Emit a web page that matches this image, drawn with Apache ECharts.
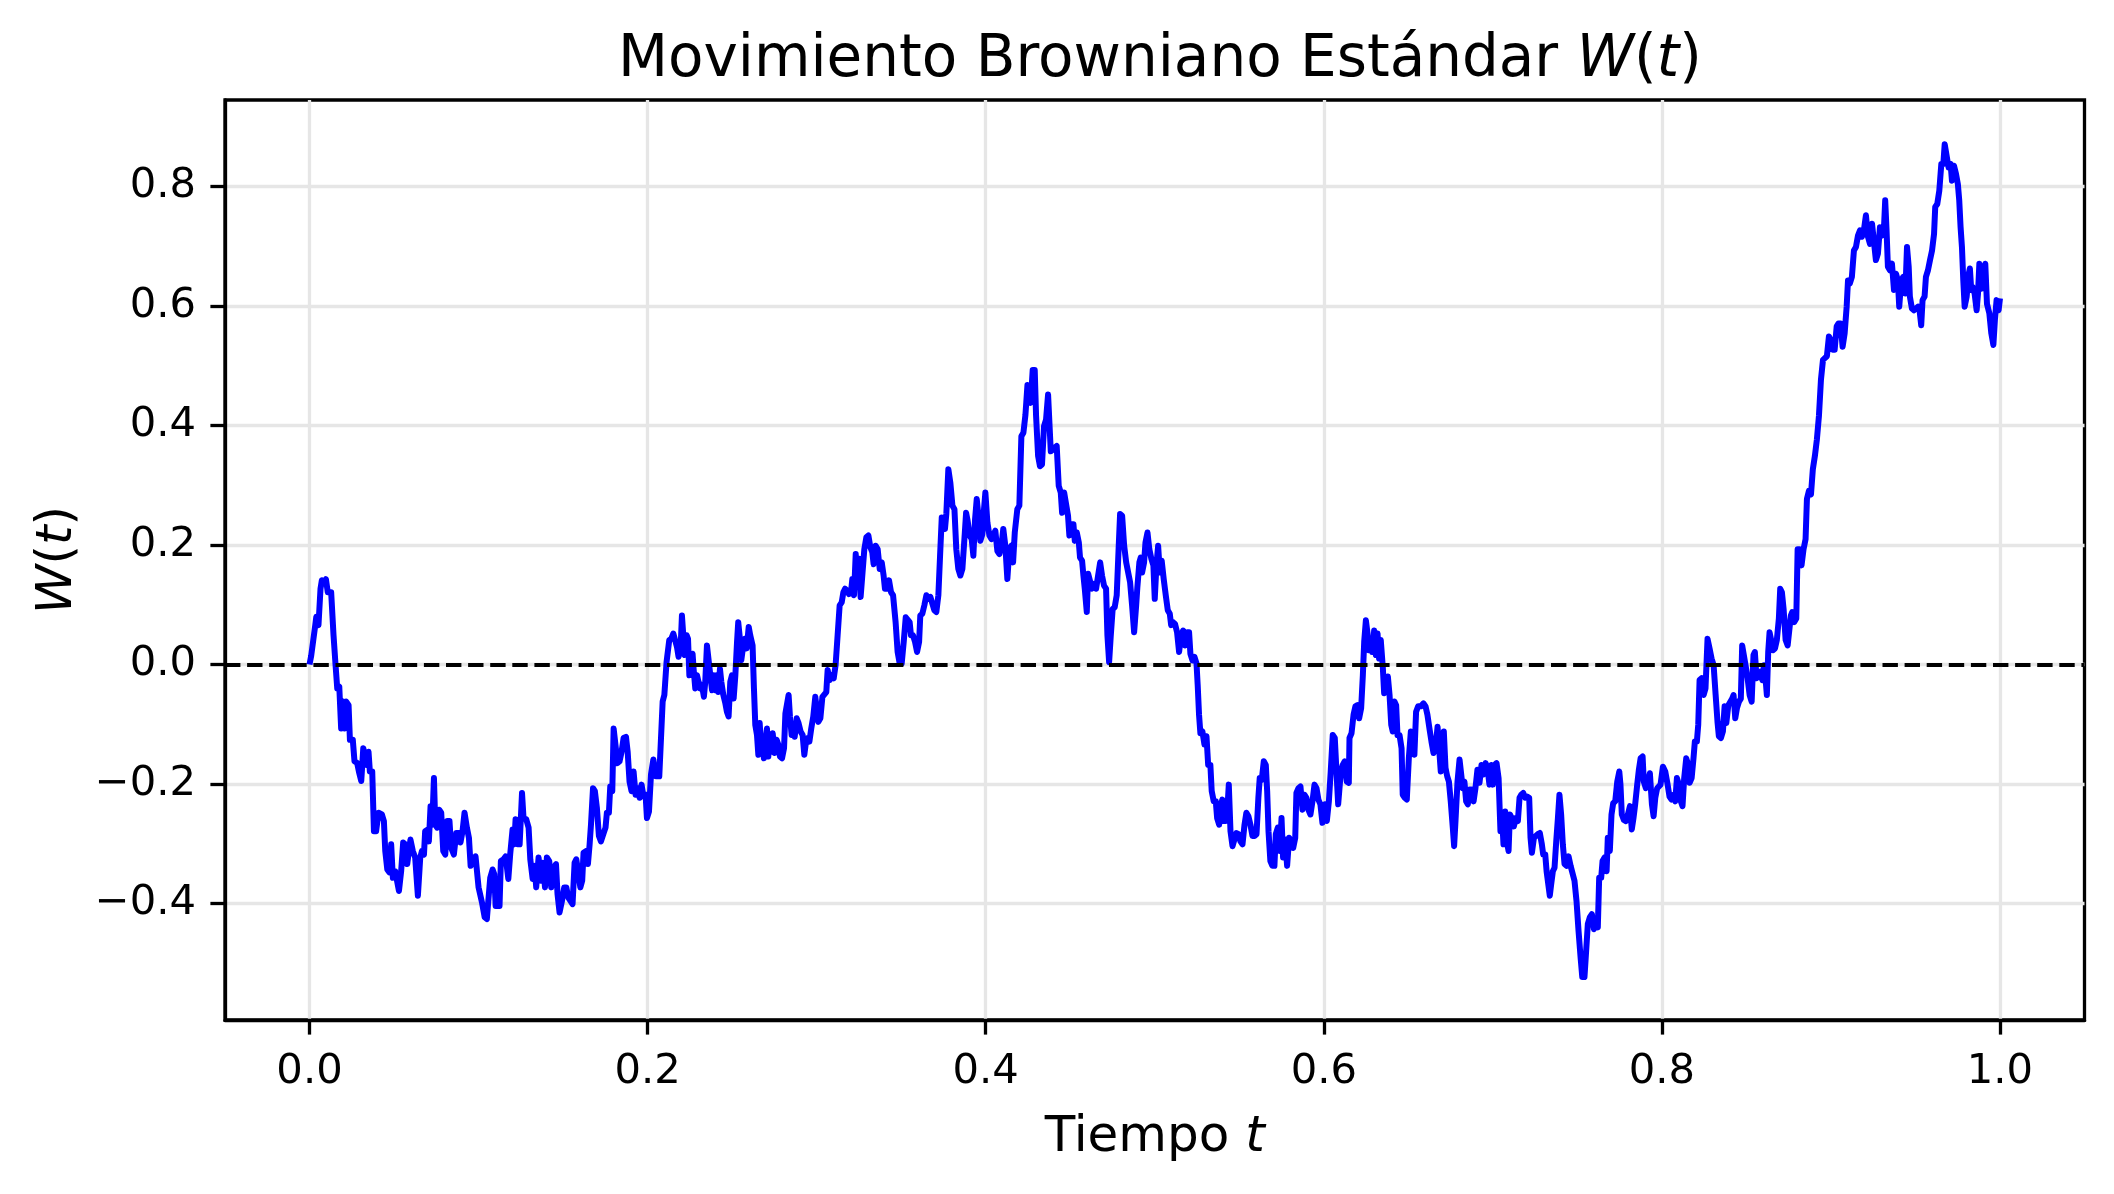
<!DOCTYPE html>
<html>
<head>
<meta charset="utf-8">
<script src="https://cdn.jsdelivr.net/npm/echarts@6/dist/echarts.min.js"></script>
<style>
  html, body { margin: 0; padding: 0; background: #fff; }
  #chart { width: 2114px; height: 1194px; }
</style>
</head>
<body>
<div id="chart"></div>
<script>
// trayectoria W(t), por tramos de 0.1
const tramo0 = [[0,0],[0.001,0.015],[0.002,0.018],[0.0034,0.066],[0.004,0.08],[0.0053,0.066],[0.0065,0.127],[0.0073,0.141],[0.0089,0.138],[0.0097,0.143],[0.0108,0.121],[0.0128,0.121],[0.0142,0.049],[0.0154,-0.001],[0.0164,-0.04],[0.0176,-0.037],[0.0187,-0.107],[0.0199,-0.062],[0.0207,-0.107],[0.0217,-0.062],[0.0231,-0.068],[0.0239,-0.126],[0.0256,-0.126],[0.0266,-0.162],[0.0282,-0.165],[0.0292,-0.179],[0.0306,-0.195],[0.0318,-0.14],[0.0329,-0.143],[0.0337,-0.168],[0.0349,-0.146],[0.0357,-0.179],[0.0371,-0.179],[0.0381,-0.279],[0.0394,-0.279],[0.0408,-0.248],[0.0428,-0.251],[0.044,-0.262],[0.0448,-0.312],[0.046,-0.343],[0.0473,-0.348],[0.0483,-0.301],[0.0493,-0.357],[0.0507,-0.346],[0.0529,-0.379],[0.0542,-0.346],[0.0554,-0.298],[0.0566,-0.301],[0.0578,-0.334],[0.0588,-0.312],[0.0597,-0.293],[0.0611,-0.312],[0.0625,-0.323],[0.0641,-0.387],[0.0655,-0.323],[0.0665,-0.312],[0.0677,-0.318],[0.0684,-0.279],[0.07,-0.276],[0.0706,-0.296],[0.0716,-0.237],[0.0726,-0.268],[0.0736,-0.19],[0.0744,-0.268],[0.0755,-0.273],[0.0767,-0.243],[0.0779,-0.248],[0.0791,-0.312],[0.0803,-0.318],[0.0815,-0.262],[0.0828,-0.262],[0.0838,-0.307],[0.0854,-0.318],[0.0868,-0.282],[0.0882,-0.282],[0.0893,-0.298],[0.0905,-0.279],[0.0917,-0.248],[0.0931,-0.273],[0.0943,-0.29],[0.0953,-0.337],[0.0966,-0.331],[0.0982,-0.321]];
const tramo1 = [[0.1,-0.373],[0.102,-0.398],[0.1036,-0.423],[0.1049,-0.426],[0.1061,-0.384],[0.1069,-0.357],[0.1083,-0.343],[0.1093,-0.351],[0.1101,-0.404],[0.1124,-0.404],[0.1132,-0.329],[0.1148,-0.326],[0.116,-0.321],[0.1176,-0.359],[0.1187,-0.318],[0.1201,-0.276],[0.1211,-0.301],[0.1219,-0.259],[0.1231,-0.301],[0.1243,-0.301],[0.1257,-0.215],[0.1266,-0.257],[0.1282,-0.259],[0.1296,-0.273],[0.1306,-0.326],[0.132,-0.359],[0.1331,-0.337],[0.1341,-0.373],[0.1355,-0.323],[0.1369,-0.362],[0.1381,-0.332],[0.1393,-0.373],[0.1404,-0.323],[0.1418,-0.329],[0.143,-0.373],[0.1444,-0.34],[0.1458,-0.334],[0.1467,-0.384],[0.1479,-0.415],[0.1493,-0.396],[0.1507,-0.373],[0.1519,-0.373],[0.1531,-0.39],[0.1542,-0.39],[0.1556,-0.401],[0.1568,-0.332],[0.1578,-0.326],[0.159,-0.348],[0.1602,-0.373],[0.1613,-0.362],[0.1621,-0.315],[0.1637,-0.312],[0.1647,-0.334],[0.1657,-0.301],[0.1665,-0.268],[0.1677,-0.207],[0.1688,-0.212],[0.17,-0.24],[0.1712,-0.287],[0.1724,-0.296],[0.174,-0.282],[0.1751,-0.273],[0.1759,-0.248],[0.1771,-0.248],[0.1779,-0.204],[0.1791,-0.212],[0.1799,-0.107],[0.1809,-0.104],[0.1822,-0.165],[0.1834,-0.162],[0.1846,-0.146],[0.1858,-0.123],[0.1872,-0.121],[0.1882,-0.146],[0.1893,-0.196],[0.1905,-0.212],[0.1917,-0.179],[0.1929,-0.218],[0.1941,-0.207],[0.1953,-0.223],[0.1964,-0.201],[0.1976,-0.221],[0.1988,-0.218],[0.1996,-0.257]];
const tramo2 = [[0.2008,-0.246],[0.202,-0.184],[0.2034,-0.159],[0.2049,-0.187],[0.2069,-0.187],[0.2089,-0.062],[0.2099,-0.051],[0.2112,0.004],[0.2128,0.041],[0.214,0.043],[0.2152,0.052],[0.2162,0.054],[0.2174,0.029],[0.2183,0.013],[0.2195,0.027],[0.2203,0.082],[0.2211,0.085],[0.2219,0.016],[0.2231,0.049],[0.2239,0.043],[0.2247,-0.018],[0.2256,0.004],[0.2266,0.018],[0.2272,-0.007],[0.2282,-0.04],[0.2292,-0.018],[0.2302,-0.018],[0.231,-0.04],[0.2321,-0.034],[0.2333,-0.054],[0.2341,-0.029],[0.2351,0.032],[0.2361,0.032],[0.2371,-0.018],[0.2381,-0.043],[0.2391,-0.018],[0.24,-0.043],[0.2408,-0.018],[0.2418,-0.046],[0.2428,-0.007],[0.2436,-0.029],[0.2448,-0.051],[0.246,-0.065],[0.2469,-0.079],[0.2479,-0.087],[0.2489,-0.029],[0.2499,-0.018],[0.2509,-0.057],[0.2519,-0.018],[0.2529,0.038],[0.2536,0.071],[0.2546,0.043],[0.2554,0.007],[0.2566,0.032],[0.2576,0.043],[0.2586,0.027],[0.2598,0.063],[0.2607,0.049],[0.2621,0.032],[0.2629,-0.04],[0.2637,-0.101],[0.2647,-0.118],[0.2655,-0.151],[0.2663,-0.098],[0.2673,-0.146],[0.268,-0.123],[0.2688,-0.157],[0.2698,-0.126],[0.2706,-0.107],[0.2714,-0.154],[0.2722,-0.118],[0.2732,-0.146],[0.274,-0.115],[0.2751,-0.148],[0.2763,-0.126],[0.2773,-0.134],[0.2783,-0.154],[0.2795,-0.157],[0.2807,-0.14],[0.2815,-0.082],[0.2824,-0.079],[0.2834,-0.051],[0.2842,-0.087],[0.2852,-0.118],[0.2862,-0.107],[0.287,-0.121],[0.2882,-0.09],[0.2893,-0.098],[0.2905,-0.112],[0.2917,-0.118],[0.2927,-0.151],[0.2937,-0.129],[0.2947,-0.123],[0.2957,-0.129],[0.2968,-0.107],[0.298,-0.087],[0.2992,-0.054]];
const tramo3 = [[0.301,-0.096],[0.3022,-0.09],[0.3034,-0.054],[0.3045,-0.054],[0.3057,-0.046],[0.3065,-0.009],[0.3077,-0.026],[0.3089,-0.018],[0.3101,-0.023],[0.3112,-0.001],[0.3124,0.049],[0.3136,0.099],[0.3148,0.104],[0.3158,0.121],[0.3168,0.127],[0.318,0.124],[0.3191,0.118],[0.3203,0.121],[0.3211,0.143],[0.3221,0.116],[0.3231,0.185],[0.3241,0.143],[0.325,0.177],[0.326,0.113],[0.327,0.149],[0.3282,0.193],[0.3294,0.213],[0.3306,0.216],[0.3318,0.196],[0.3329,0.188],[0.3337,0.168],[0.3349,0.199],[0.3361,0.193],[0.3373,0.16],[0.3385,0.171],[0.3396,0.149],[0.3404,0.127],[0.3416,0.127],[0.3428,0.141],[0.344,0.121],[0.3452,0.116],[0.346,0.116],[0.3467,0.071],[0.3479,0.021],[0.3491,0.002],[0.3503,0.002],[0.3515,0.038],[0.3527,0.079],[0.3538,0.082],[0.355,0.071],[0.3558,0.049],[0.357,0.049],[0.3582,0.038],[0.3594,0.021],[0.3606,0.038],[0.3613,0.082],[0.3625,0.085],[0.3637,0.099],[0.3649,0.116],[0.3661,0.11],[0.3673,0.113],[0.3684,0.113],[0.3696,0.091],[0.3708,0.088],[0.372,0.116],[0.373,0.182],[0.374,0.246],[0.3751,0.246],[0.3759,0.227],[0.3767,0.252],[0.3779,0.327],[0.3791,0.304],[0.3803,0.266],[0.3815,0.26],[0.3826,0.193],[0.3838,0.16],[0.385,0.149],[0.3862,0.16],[0.3874,0.21],[0.3884,0.254],[0.3893,0.241],[0.3905,0.216],[0.3917,0.21],[0.3927,0.182],[0.3937,0.243],[0.3947,0.277],[0.3957,0.249],[0.3968,0.207],[0.398,0.218],[0.399,0.26],[0.3998,0.288]];
const tramo4 = [[0.401,0.238],[0.4022,0.216],[0.4034,0.21],[0.4045,0.207],[0.4057,0.224],[0.4069,0.19],[0.4081,0.185],[0.4093,0.199],[0.4104,0.227],[0.4116,0.199],[0.4128,0.143],[0.414,0.193],[0.4152,0.199],[0.4162,0.171],[0.4172,0.221],[0.418,0.224],[0.4187,0.26],[0.4199,0.266],[0.4211,0.382],[0.4223,0.388],[0.4235,0.418],[0.4247,0.468],[0.4258,0.471],[0.4266,0.438],[0.4278,0.493],[0.429,0.493],[0.4298,0.416],[0.431,0.349],[0.4321,0.332],[0.4333,0.335],[0.4345,0.399],[0.4357,0.41],[0.4369,0.452],[0.4377,0.404],[0.4385,0.357],[0.4396,0.354],[0.4408,0.363],[0.442,0.366],[0.4432,0.299],[0.4444,0.288],[0.4452,0.254],[0.4464,0.288],[0.4475,0.285],[0.4487,0.249],[0.4495,0.216],[0.4507,0.235],[0.4519,0.235],[0.4527,0.207],[0.4539,0.221],[0.4551,0.204],[0.4558,0.179],[0.457,0.174],[0.4578,0.149],[0.4586,0.127],[0.4598,0.088],[0.4606,0.152],[0.4617,0.149],[0.4629,0.127],[0.4641,0.135],[0.4653,0.127],[0.4665,0.149],[0.4677,0.171],[0.4688,0.149],[0.47,0.132],[0.4712,0.127],[0.472,0.049],[0.473,0.004],[0.474,0.049],[0.4751,0.093],[0.4763,0.096],[0.4775,0.116],[0.4787,0.199],[0.4795,0.252],[0.4807,0.249],[0.4819,0.199],[0.4831,0.171],[0.4842,0.168],[0.4854,0.138],[0.4866,0.099],[0.4878,0.054],[0.489,0.099],[0.4897,0.129],[0.4909,0.171],[0.4917,0.179],[0.4925,0.154],[0.4937,0.171],[0.4945,0.204],[0.4957,0.221],[0.4968,0.193],[0.498,0.177],[0.4992,0.166]];
const tramo5 = [[0.5,0.11],[0.501,0.166],[0.502,0.199],[0.503,0.154],[0.5041,0.174],[0.5053,0.143],[0.5065,0.116],[0.5077,0.091],[0.5089,0.085],[0.5097,0.066],[0.5108,0.071],[0.512,0.068],[0.5132,0.054],[0.5144,0.021],[0.5156,0.049],[0.5168,0.057],[0.5179,0.032],[0.5191,0.054],[0.5203,0.054],[0.5211,0.018],[0.5223,0.007],[0.5235,0.013],[0.5247,0.002],[0.5254,-0.034],[0.5262,-0.084],[0.527,-0.115],[0.5282,-0.112],[0.5294,-0.134],[0.5306,-0.12],[0.5316,-0.168],[0.5329,-0.168],[0.5337,-0.212],[0.5349,-0.229],[0.5361,-0.229],[0.5369,-0.257],[0.5381,-0.268],[0.5393,-0.234],[0.54,-0.226],[0.5408,-0.262],[0.542,-0.262],[0.5428,-0.251],[0.5438,-0.201],[0.5448,-0.279],[0.546,-0.304],[0.5471,-0.293],[0.5483,-0.282],[0.5495,-0.284],[0.5507,-0.296],[0.5519,-0.301],[0.5531,-0.268],[0.5542,-0.248],[0.5554,-0.254],[0.5566,-0.268],[0.5578,-0.287],[0.559,-0.287],[0.5602,-0.284],[0.5613,-0.223],[0.5621,-0.19],[0.5633,-0.193],[0.5645,-0.162],[0.5657,-0.168],[0.5665,-0.212],[0.5673,-0.279],[0.5684,-0.329],[0.5696,-0.337],[0.5708,-0.337],[0.5716,-0.284],[0.5728,-0.273],[0.574,-0.312],[0.575,-0.257],[0.5759,-0.323],[0.5771,-0.293],[0.5783,-0.337],[0.5795,-0.29],[0.5807,-0.296],[0.5819,-0.307],[0.5831,-0.29],[0.5838,-0.215],[0.585,-0.207],[0.5862,-0.204],[0.5874,-0.243],[0.5886,-0.218],[0.5897,-0.223],[0.5909,-0.243],[0.5921,-0.251],[0.5933,-0.229],[0.5945,-0.201],[0.5957,-0.207],[0.5968,-0.226],[0.598,-0.234],[0.5992,-0.265]];
const tramo6 = [[0.6006,-0.234],[0.6018,-0.262],[0.603,-0.229],[0.6041,-0.179],[0.6053,-0.118],[0.6065,-0.123],[0.6075,-0.179],[0.6085,-0.234],[0.6093,-0.237],[0.6101,-0.179],[0.6112,-0.168],[0.6124,-0.162],[0.6136,-0.196],[0.6148,-0.198],[0.6152,-0.123],[0.6164,-0.115],[0.6176,-0.084],[0.6187,-0.07],[0.6199,-0.068],[0.6209,-0.09],[0.6221,-0.073],[0.6231,-0.018],[0.6239,0.038],[0.6249,0.074],[0.6258,0.054],[0.6266,0.024],[0.6276,0.041],[0.6286,0.021],[0.6298,0.057],[0.6308,0.016],[0.6318,0.052],[0.6327,0.01],[0.6337,0.041],[0.6349,-0.004],[0.6357,-0.048],[0.6369,-0.045],[0.6379,-0.02],[0.6389,-0.051],[0.6399,-0.101],[0.6408,-0.112],[0.6418,-0.062],[0.6428,-0.068],[0.6436,-0.118],[0.6448,-0.118],[0.646,-0.14],[0.6467,-0.218],[0.6479,-0.223],[0.6491,-0.226],[0.6503,-0.157],[0.6515,-0.112],[0.6527,-0.118],[0.6536,-0.151],[0.6546,-0.079],[0.6558,-0.07],[0.6574,-0.07],[0.659,-0.065],[0.6602,-0.07],[0.6613,-0.084],[0.6625,-0.107],[0.6637,-0.129],[0.6649,-0.148],[0.6661,-0.14],[0.6673,-0.104],[0.6684,-0.107],[0.6692,-0.179],[0.67,-0.151],[0.671,-0.112],[0.672,-0.173],[0.673,-0.187],[0.674,-0.196],[0.6751,-0.229],[0.6763,-0.273],[0.6771,-0.304],[0.6779,-0.262],[0.6791,-0.196],[0.6803,-0.159],[0.6813,-0.159],[0.6822,-0.207],[0.6832,-0.196],[0.6842,-0.229],[0.6852,-0.234],[0.6862,-0.209],[0.6874,-0.209],[0.6886,-0.229],[0.6897,-0.207],[0.6909,-0.176],[0.6921,-0.198],[0.6933,-0.168],[0.6945,-0.184],[0.6957,-0.165],[0.6968,-0.173],[0.698,-0.201],[0.6992,-0.168]];
const tramo7 = [[0.7,-0.201],[0.701,-0.168],[0.7022,-0.165],[0.7034,-0.19],[0.7045,-0.279],[0.7055,-0.257],[0.7063,-0.301],[0.7073,-0.246],[0.7083,-0.296],[0.7093,-0.312],[0.7101,-0.251],[0.7112,-0.257],[0.7124,-0.271],[0.7136,-0.257],[0.7148,-0.262],[0.7158,-0.223],[0.7168,-0.218],[0.718,-0.215],[0.7191,-0.223],[0.7203,-0.221],[0.7215,-0.223],[0.7223,-0.29],[0.7231,-0.315],[0.7243,-0.29],[0.7254,-0.29],[0.7266,-0.284],[0.7278,-0.282],[0.729,-0.301],[0.7298,-0.318],[0.731,-0.318],[0.7318,-0.346],[0.7329,-0.343],[0.7337,-0.387],[0.7345,-0.368],[0.7355,-0.346],[0.7365,-0.34],[0.7375,-0.296],[0.7385,-0.257],[0.7394,-0.218],[0.7404,-0.251],[0.7414,-0.301],[0.7424,-0.334],[0.7436,-0.337],[0.7448,-0.321],[0.746,-0.337],[0.7471,-0.337],[0.7483,-0.362],[0.7495,-0.396],[0.7507,-0.446],[0.7519,-0.49],[0.7529,-0.523],[0.7542,-0.523],[0.7552,-0.479],[0.7562,-0.434],[0.7574,-0.423],[0.7586,-0.418],[0.7598,-0.443],[0.761,-0.434],[0.7621,-0.44],[0.7629,-0.357],[0.7641,-0.357],[0.7649,-0.329],[0.7661,-0.323],[0.7673,-0.346],[0.768,-0.29],[0.7692,-0.312],[0.7702,-0.251],[0.7712,-0.232],[0.7724,-0.229],[0.7736,-0.196],[0.7748,-0.179],[0.7755,-0.201],[0.7763,-0.251],[0.7775,-0.26],[0.7787,-0.262],[0.7799,-0.251],[0.7811,-0.237],[0.7822,-0.276],[0.7832,-0.257],[0.7842,-0.234],[0.7854,-0.201],[0.7864,-0.176],[0.7874,-0.157],[0.7886,-0.154],[0.7893,-0.196],[0.7905,-0.207],[0.7917,-0.196],[0.7929,-0.182],[0.7941,-0.234],[0.7951,-0.254],[0.7961,-0.223],[0.7972,-0.207],[0.798,-0.207],[0.7992,-0.201]];
const tramo8 = [[0.8006,-0.171],[0.802,-0.179],[0.8034,-0.201],[0.8045,-0.221],[0.8057,-0.226],[0.8069,-0.218],[0.8079,-0.229],[0.8089,-0.19],[0.8101,-0.201],[0.8112,-0.229],[0.8122,-0.237],[0.8132,-0.19],[0.8144,-0.157],[0.8156,-0.168],[0.8164,-0.198],[0.8176,-0.19],[0.8187,-0.157],[0.8195,-0.129],[0.8207,-0.129],[0.8215,-0.101],[0.8223,-0.026],[0.8235,-0.023],[0.8247,-0.051],[0.8258,-0.04],[0.827,0.043],[0.8282,0.027],[0.8294,0.01],[0.8306,-0.001],[0.8318,-0.051],[0.8329,-0.096],[0.8337,-0.12],[0.8349,-0.123],[0.8361,-0.112],[0.8371,-0.07],[0.8381,-0.098],[0.8393,-0.068],[0.8404,-0.065],[0.8416,-0.057],[0.8424,-0.051],[0.8434,-0.09],[0.8444,-0.073],[0.8456,-0.062],[0.8467,-0.057],[0.8475,0.032],[0.8483,0.029],[0.8495,-0.001],[0.8507,-0.023],[0.8519,-0.051],[0.8531,-0.062],[0.8542,0.016],[0.855,0.021],[0.856,-0.023],[0.857,-0.026],[0.8582,-0.012],[0.8594,-0.026],[0.8604,-0.001],[0.8613,-0.023],[0.8621,-0.051],[0.8629,0.021],[0.8637,0.054],[0.8645,0.043],[0.8657,0.024],[0.8669,0.027],[0.868,0.041],[0.8692,0.077],[0.87,0.127],[0.871,0.121],[0.872,0.093],[0.8732,0.041],[0.8744,0.032],[0.8755,0.029],[0.8763,0.082],[0.8771,0.088],[0.8783,0.071],[0.8795,0.077],[0.8803,0.193],[0.8815,0.193],[0.8826,0.166],[0.8838,0.193],[0.885,0.21],[0.8858,0.277],[0.887,0.291],[0.8882,0.285],[0.8893,0.327],[0.8905,0.349],[0.8917,0.377],[0.8929,0.416],[0.8941,0.477],[0.8953,0.51],[0.8964,0.51],[0.8976,0.516],[0.8988,0.549]];
const tramo9 = [[0.9,0.543],[0.901,0.527],[0.9022,0.527],[0.9034,0.566],[0.9045,0.571],[0.9057,0.571],[0.9069,0.532],[0.9081,0.554],[0.9093,0.599],[0.9101,0.643],[0.9112,0.638],[0.9124,0.649],[0.9136,0.693],[0.9148,0.699],[0.916,0.718],[0.9172,0.727],[0.9183,0.716],[0.9195,0.727],[0.9207,0.752],[0.9219,0.716],[0.9231,0.704],[0.9243,0.738],[0.9254,0.741],[0.9266,0.677],[0.9278,0.688],[0.929,0.732],[0.9302,0.718],[0.9314,0.732],[0.9321,0.777],[0.9329,0.727],[0.9337,0.666],[0.9349,0.66],[0.9361,0.671],[0.9373,0.627],[0.9385,0.654],[0.9396,0.643],[0.9404,0.599],[0.9416,0.643],[0.9428,0.649],[0.944,0.621],[0.945,0.699],[0.946,0.666],[0.9467,0.616],[0.9479,0.596],[0.9491,0.593],[0.9503,0.596],[0.9515,0.599],[0.9525,0.591],[0.9534,0.568],[0.9542,0.61],[0.9554,0.616],[0.9562,0.649],[0.9574,0.66],[0.9586,0.677],[0.9598,0.693],[0.961,0.721],[0.9617,0.766],[0.9629,0.771],[0.9641,0.793],[0.9653,0.838],[0.9665,0.838],[0.9673,0.871],[0.9684,0.871],[0.9696,0.832],[0.9708,0.838],[0.9716,0.81],[0.9728,0.835],[0.974,0.821],[0.9751,0.804],[0.9759,0.777],[0.9767,0.732],[0.9775,0.699],[0.9783,0.643],[0.9791,0.599],[0.9803,0.616],[0.9815,0.654],[0.9822,0.663],[0.983,0.627],[0.9838,0.632],[0.985,0.621],[0.9862,0.593],[0.987,0.621],[0.9878,0.671],[0.989,0.629],[0.9901,0.629],[0.9913,0.671],[0.9923,0.604],[0.9937,0.588],[0.9949,0.554],[0.9961,0.535],[0.997,0.577],[0.998,0.61],[0.9992,0.593],[1.0,0.613]];

const xTicks = [0, 0.2, 0.4, 0.6, 0.8, 1.0];
const yTicks = [-0.4, -0.2, 0, 0.2, 0.4, 0.6, 0.8];
const trayectoria = [].concat(tramo0, tramo1, tramo2, tramo3, tramo4, tramo5, tramo6, tramo7, tramo8, tramo9);

const FONT = 'DejaVu Sans';
const fmt = v => v.toFixed(1).replace('-', '\u2212');
const mathRich = {
  it: { fontFamily: FONT, fontStyle: 'italic', fontSize: 50, color: '#000' },
  r: { fontFamily: FONT, fontSize: 50, color: '#000' }
};

const chart = echarts.init(document.getElementById('chart'));
chart.setOption({
  animation: false,
  backgroundColor: '#fff',
  title: {
    text: '{r|Movimiento Browniano Estándar }{it|W}{r|(}{it|t}{r|)}',
    left: 1155, top: 27, textAlign: 'center',
    textStyle: {
      fontFamily: FONT, fontWeight: 'normal', fontSize: 58, color: '#000',
      rich: {
        it: { fontFamily: FONT, fontStyle: 'italic', fontSize: 58, color: '#000' },
        r: { fontFamily: FONT, fontSize: 58, color: '#000' }
      }
    }
  },
  grid: {
    left: 225, right: 29.5, top: 100, bottom: 174,
    show: true, borderColor: '#000', borderWidth: 3.3, backgroundColor: 'transparent'
  },
  xAxis: {
    type: 'value', min: -0.05, max: 1.05,
    name: '{r|Tiempo }{it|t}', nameLocation: 'middle', nameGap: 93,
    nameTextStyle: { rich: mathRich },
    axisLine: { show: true, onZero: false, lineStyle: { color: '#000', width: 3.3 } },
    axisTick: { show: true, customValues: xTicks, inside: false, length: 14.6,
      lineStyle: { color: '#000', width: 3.3 } },
    axisLabel: { customValues: xTicks, formatter: fmt, margin: 31,
      fontFamily: FONT, fontSize: 41.7, color: '#000' },
    splitLine: { show: true, lineStyle: { color: '#e6e6e6', width: 3.3 } }
  },
  yAxis: {
    type: 'value', min: -0.595, max: 0.945,
    name: '{it|W}{r|(}{it|t}{r|)}', nameLocation: 'middle', nameGap: 142, nameRotate: 90,
    nameTextStyle: { rich: mathRich },
    axisLine: { show: true, onZero: false, lineStyle: { color: '#000', width: 3.3 } },
    axisTick: { show: true, customValues: yTicks, inside: false, length: 14.6,
      lineStyle: { color: '#000', width: 3.3 } },
    axisLabel: { customValues: yTicks, formatter: fmt, margin: 29,
      fontFamily: FONT, fontSize: 41.7, color: '#000' },
    splitLine: { show: true, lineStyle: { color: '#e6e6e6', width: 3.3 } }
  },
  series: [{
    type: 'line',
    data: trayectoria,
    showSymbol: false,
    symbol: 'none',
    lineStyle: { color: '#0000ff', width: 6, join: 'round' },
    z: 3,
    markLine: {
      silent: true,
      symbol: ['none', 'none'],
      label: { show: false },
      lineStyle: { color: '#000', width: 4.2, type: [15.4, 6.7] },
      data: [{ yAxis: 0 }]
    }
  }]
});
</script>
</body>
</html>
